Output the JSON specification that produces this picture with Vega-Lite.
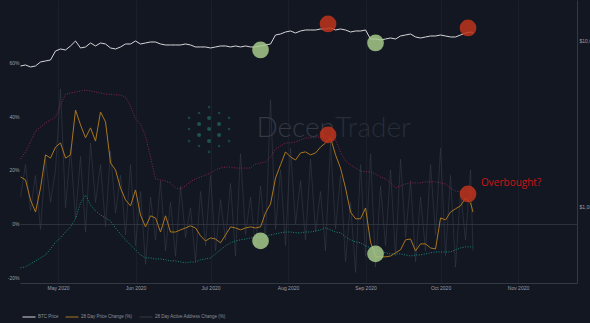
{
  "$schema": "https://vega.github.io/schema/vega-lite/v6.json",
  "width": 557,
  "height": 283,
  "autosize": {"type": "none"},
  "padding": {"left": 20, "top": 0, "right": 13, "bottom": 40},
  "background": "#121722",
  "config": {
    "view": {"stroke": null},
    "font": "Liberation Sans",
    "axis": {"labelFont": "Liberation Sans", "labelFontSize": 5, "labelColor": "#9a9ea8", "ticks": false}
  },
  "datasets": {
    "main": [
      {"date":"2020-04-16","btc":7070,"pc":17.4,"aa":-16.3,"band":24.1,"act":10},
      {"date":"2020-04-18","btc":7168,"pc":16.3,"aa":-15.9,"band":26.7,"act":22},
      {"date":"2020-04-20","btc":6973,"pc":8.9,"aa":-14.8,"band":30.4,"act":5},
      {"date":"2020-04-22","btc":7070,"pc":4.4,"aa":-13.7,"band":34.4,"act":18},
      {"date":"2020-04-24","btc":7473,"pc":13.3,"aa":-12.6,"band":35.9,"act":-2},
      {"date":"2020-04-26","btc":7577,"pc":25.6,"aa":-11.5,"band":37.4,"act":24},
      {"date":"2020-04-28","btc":7682,"pc":24.4,"aa":-9.3,"band":38.5,"act":8},
      {"date":"2020-04-30","btc":8705,"pc":28.5,"aa":-6.7,"band":39.6,"act":20},
      {"date":"2020-05-02","btc":8950,"pc":30.0,"aa":-5.2,"band":44.1,"act":50},
      {"date":"2020-05-04","btc":8827,"pc":24.4,"aa":-3.0,"band":48.1,"act":6},
      {"date":"2020-05-06","btc":9330,"pc":25.6,"aa":-1.1,"band":48.5,"act":28},
      {"date":"2020-05-08","btc":10000,"pc":42.2,"aa":1.9,"band":48.9,"act":2},
      {"date":"2020-05-10","btc":9075,"pc":36.7,"aa":7.8,"band":49.3,"act":25},
      {"date":"2020-05-12","btc":9202,"pc":31.9,"aa":10.7,"band":49.6,"act":-3},
      {"date":"2020-05-14","btc":9727,"pc":35.6,"aa":7.0,"band":49.3,"act":30},
      {"date":"2020-05-16","btc":9330,"pc":30.7,"aa":4.8,"band":48.9,"act":8},
      {"date":"2020-05-18","btc":9727,"pc":41.5,"aa":3.3,"band":48.5,"act":22},
      {"date":"2020-05-20","btc":9592,"pc":37.8,"aa":2.2,"band":48.1,"act":-1},
      {"date":"2020-05-22","btc":9075,"pc":22.6,"aa":1.1,"band":48.1,"act":27},
      {"date":"2020-05-24","btc":8950,"pc":20.0,"aa":-1.5,"band":47.8,"act":4},
      {"date":"2020-05-26","btc":9202,"pc":13.3,"aa":-3.7,"band":47.8,"act":18},
      {"date":"2020-05-28","btc":9592,"pc":8.9,"aa":-5.9,"band":47.0,"act":-4},
      {"date":"2020-05-30","btc":9592,"pc":6.7,"aa":-7.8,"band":43.7,"act":22},
      {"date":"2020-06-01","btc":10000,"pc":12.6,"aa":-9.6,"band":38.9,"act":-8},
      {"date":"2020-06-03","btc":9592,"pc":3.3,"aa":-11.5,"band":37.0,"act":12},
      {"date":"2020-06-05","btc":9727,"pc":-1.1,"aa":-12.6,"band":32.6,"act":-15},
      {"date":"2020-06-07","btc":9862,"pc":3.0,"aa":-12.6,"band":24.8,"act":10},
      {"date":"2020-06-09","btc":9862,"pc":2.2,"aa":-13.0,"band":16.7,"act":-6},
      {"date":"2020-06-11","btc":9592,"pc":-3.0,"aa":-13.0,"band":16.3,"act":16},
      {"date":"2020-06-13","btc":9461,"pc":3.0,"aa":-13.3,"band":15.9,"act":-10},
      {"date":"2020-06-15","btc":9461,"pc":-3.0,"aa":-13.7,"band":15.2,"act":8},
      {"date":"2020-06-17","btc":9461,"pc":-3.0,"aa":-13.7,"band":13.3,"act":-12},
      {"date":"2020-06-19","btc":9461,"pc":-2.2,"aa":-14.1,"band":13.0,"act":14},
      {"date":"2020-06-21","btc":9592,"pc":-1.5,"aa":-14.4,"band":14.1,"act":-5},
      {"date":"2020-06-23","btc":9461,"pc":-0.7,"aa":-14.1,"band":15.6,"act":6},
      {"date":"2020-06-25","btc":9202,"pc":-1.5,"aa":-14.1,"band":16.7,"act":-14},
      {"date":"2020-06-27","btc":9202,"pc":-4.4,"aa":-13.3,"band":17.4,"act":12},
      {"date":"2020-06-29","btc":9202,"pc":-6.3,"aa":-13.0,"band":18.1,"act":-8},
      {"date":"2020-07-01","btc":9075,"pc":-5.2,"aa":-12.6,"band":18.9,"act":18},
      {"date":"2020-07-03","btc":9202,"pc":-5.6,"aa":-11.1,"band":20.0,"act":-10},
      {"date":"2020-07-05","btc":9330,"pc":-7.0,"aa":-9.6,"band":20.7,"act":9},
      {"date":"2020-07-07","btc":9330,"pc":-4.1,"aa":-8.1,"band":21.1,"act":-6},
      {"date":"2020-07-09","btc":9202,"pc":-1.1,"aa":-7.0,"band":21.1,"act":15},
      {"date":"2020-07-11","btc":9330,"pc":-1.5,"aa":-6.3,"band":20.7,"act":-12},
      {"date":"2020-07-13","btc":9202,"pc":-2.2,"aa":-5.9,"band":20.7,"act":26},
      {"date":"2020-07-15","btc":9330,"pc":-1.5,"aa":-5.6,"band":20.7,"act":-4},
      {"date":"2020-07-17","btc":9202,"pc":-1.1,"aa":-5.2,"band":20.7,"act":10},
      {"date":"2020-07-19","btc":9202,"pc":-1.5,"aa":-4.8,"band":22.2,"act":-9},
      {"date":"2020-07-21","btc":9330,"pc":-1.1,"aa":-4.8,"band":22.6,"act":14},
      {"date":"2020-07-23","btc":9461,"pc":4.1,"aa":-4.4,"band":23.0,"act":-6},
      {"date":"2020-07-25","btc":9592,"pc":7.4,"aa":-4.1,"band":24.8,"act":46},
      {"date":"2020-07-27","btc":10868,"pc":17.0,"aa":-3.7,"band":27.8,"act":-2},
      {"date":"2020-07-29","btc":11020,"pc":21.9,"aa":-3.3,"band":28.9,"act":20},
      {"date":"2020-07-31","btc":11329,"pc":26.7,"aa":-3.0,"band":30.0,"act":-8},
      {"date":"2020-08-02","btc":11488,"pc":24.8,"aa":-3.0,"band":30.0,"act":28},
      {"date":"2020-08-04","btc":11174,"pc":23.7,"aa":-3.3,"band":30.4,"act":0},
      {"date":"2020-08-06","btc":11488,"pc":26.3,"aa":-3.3,"band":31.1,"act":16},
      {"date":"2020-08-08","btc":11649,"pc":26.7,"aa":-3.0,"band":31.9,"act":-6},
      {"date":"2020-08-10","btc":11649,"pc":25.6,"aa":-3.0,"band":31.9,"act":24},
      {"date":"2020-08-12","btc":11649,"pc":26.3,"aa":-2.6,"band":32.2,"act":-3},
      {"date":"2020-08-14","btc":11810,"pc":28.5,"aa":-2.2,"band":32.2,"act":12},
      {"date":"2020-08-16","btc":11810,"pc":30.0,"aa":-1.5,"band":32.2,"act":-10},
      {"date":"2020-08-18","btc":11976,"pc":31.9,"aa":-2.2,"band":32.2,"act":30},
      {"date":"2020-08-20","btc":11649,"pc":25.6,"aa":-3.0,"band":31.1,"act":-2},
      {"date":"2020-08-22","btc":11810,"pc":20.7,"aa":-3.3,"band":26.7,"act":18},
      {"date":"2020-08-24","btc":11649,"pc":13.3,"aa":-4.8,"band":23.3,"act":-14},
      {"date":"2020-08-26","btc":11329,"pc":4.4,"aa":-5.9,"band":21.9,"act":8},
      {"date":"2020-08-28","btc":11488,"pc":1.9,"aa":-6.7,"band":20.7,"act":-18},
      {"date":"2020-08-30","btc":11488,"pc":1.9,"aa":-7.0,"band":19.6,"act":22},
      {"date":"2020-09-01","btc":11649,"pc":5.9,"aa":-8.1,"band":19.3,"act":-12},
      {"date":"2020-09-03","btc":10281,"pc":-6.7,"aa":-8.9,"band":19.3,"act":26},
      {"date":"2020-09-05","btc":10281,"pc":-12.2,"aa":-9.6,"band":18.5,"act":-16},
      {"date":"2020-09-07","btc":10140,"pc":-12.2,"aa":-10.4,"band":17.4,"act":14},
      {"date":"2020-09-09","btc":10281,"pc":-12.2,"aa":-10.7,"band":16.7,"act":-8},
      {"date":"2020-09-11","btc":10425,"pc":-11.9,"aa":-11.1,"band":15.2,"act":20},
      {"date":"2020-09-13","btc":10281,"pc":-10.7,"aa":-11.1,"band":13.3,"act":-12},
      {"date":"2020-09-15","btc":10718,"pc":-9.6,"aa":-11.1,"band":14.1,"act":24},
      {"date":"2020-09-17","btc":10868,"pc":-5.9,"aa":-11.5,"band":14.8,"act":-5},
      {"date":"2020-09-19","btc":11020,"pc":-5.6,"aa":-11.9,"band":15.2,"act":16},
      {"date":"2020-09-21","btc":10571,"pc":-10.0,"aa":-11.5,"band":15.2,"act":-14},
      {"date":"2020-09-23","btc":10425,"pc":-7.4,"aa":-11.5,"band":15.2,"act":10},
      {"date":"2020-09-25","btc":10571,"pc":-7.4,"aa":-11.1,"band":15.6,"act":-10},
      {"date":"2020-09-27","btc":10718,"pc":-8.9,"aa":-10.7,"band":15.6,"act":22},
      {"date":"2020-09-29","btc":10718,"pc":-9.3,"aa":-10.4,"band":15.6,"act":-4},
      {"date":"2020-10-01","btc":10868,"pc":2.2,"aa":-10.4,"band":15.2,"act":28},
      {"date":"2020-10-03","btc":10718,"pc":1.5,"aa":-10.4,"band":14.8,"act":-12},
      {"date":"2020-10-05","btc":10571,"pc":4.4,"aa":-10.4,"band":13.3,"act":18},
      {"date":"2020-10-07","btc":10571,"pc":5.6,"aa":-9.6,"band":12.2,"act":-16},
      {"date":"2020-10-09","btc":10868,"pc":6.7,"aa":-8.9,"band":11.9,"act":12},
      {"date":"2020-10-11","btc":11174,"pc":9.6,"aa":-8.5,"band":11.9,"act":-6},
      {"date":"2020-10-13","btc":11329,"pc":7.8,"aa":-8.5,"band":11.9,"act":20},
      {"date":"2020-10-14","btc":11174,"pc":4.4,"aa":-8.5,"band":11.9,"act":-10}
    ],
    "marks": [
      {"date":"2020-07-21","v":-6.3,"k":"g"},
      {"date":"2020-09-05","v":-11.1,"k":"g"},
      {"date":"2020-08-17","v":33.0,"k":"r"},
      {"date":"2020-10-12","v":11.1,"k":"r"},
      {"date":"2020-10-17T05:00","v":14.1,"k":"ob","t":"Overbought?"},
      {"date":"2020-08-19T19:00","v":32.2,"k":"wm1","t":"Decen"},
      {"date":"2020-08-19T19:00","v":32.2,"k":"wm2","t":"Trader"},
      {"date":"2020-06-30T10:00","v":43.3,"k":"dot"},
      {"date":"2020-06-26T10:00","v":41.1,"k":"dot"},
      {"date":"2020-07-04T10:00","v":41.1,"k":"dot"},
      {"date":"2020-06-22T10:00","v":39.3,"k":"dot"},
      {"date":"2020-06-30T10:00","v":39.3,"k":"big"},
      {"date":"2020-07-08T10:00","v":39.3,"k":"dot"},
      {"date":"2020-06-26T10:00","v":37.0,"k":"big"},
      {"date":"2020-07-04T10:00","v":37.0,"k":"big"},
      {"date":"2020-06-22T10:00","v":35.2,"k":"dot"},
      {"date":"2020-06-30T10:00","v":35.2,"k":"big"},
      {"date":"2020-07-08T10:00","v":35.2,"k":"dot"},
      {"date":"2020-06-26T10:00","v":33.0,"k":"big"},
      {"date":"2020-07-04T10:00","v":33.0,"k":"big"},
      {"date":"2020-06-22T10:00","v":30.7,"k":"dot"},
      {"date":"2020-06-30T10:00","v":30.7,"k":"big"},
      {"date":"2020-07-08T10:00","v":30.7,"k":"dot"},
      {"date":"2020-06-26T10:00","v":28.9,"k":"dot"},
      {"date":"2020-07-04T10:00","v":28.9,"k":"dot"},
      {"date":"2020-06-30T10:00","v":26.7,"k":"dot"}
    ],
    "top": [
      {"date":"2020-07-21","p":8829,"k":"g"},
      {"date":"2020-09-05","p":9727,"k":"g"},
      {"date":"2020-08-17","p":12660,"k":"r"},
      {"date":"2020-10-12","p":11976,"k":"r"}
    ]
  },
  "data": {"name": "main"},
  "encoding": {
    "x": {
      "field": "date", "type": "temporal", "title": null,
      "scale": {"domain": [{"year": 2020, "month": 4, "date": 15, "hours": 19}, {"year": 2020, "month": 11, "date": 24, "hours": 14}]},
      "axis": {"format": "%b %Y", "tickCount": {"interval": "month", "step": 1}, "grid": true, "gridColor": "#1a1f2a", "domainColor": "#343946", "labelPadding": 2, "labelFlush": false, "labelOverlap": false}
    }
  },
  "layer": [
    {
      "layer": [
        {
          "data": {"name": "marks"},
          "transform": [{"filter": "datum.k === 'wm1'"}],
          "mark": {"type": "text", "align": "right", "baseline": "alphabetic", "font": "Lato", "fontWeight": 300, "fontSize": 28, "color": "#333844"},
          "encoding": {"y": {"field": "v", "type": "quantitative", "title": null, "scale": {"domain": [-21.9, 83], "zero": false}}, "text": {"field": "t"}}
        },
        {
          "data": {"name": "marks"},
          "transform": [{"filter": "datum.k === 'wm2'"}],
          "mark": {"type": "text", "align": "left", "baseline": "alphabetic", "font": "Lato", "fontWeight": 300, "fontSize": 28, "color": "#282d38"},
          "encoding": {"y": {"field": "v", "type": "quantitative", "title": null, "scale": {"domain": [-21.9, 83], "zero": false}}, "text": {"field": "t"}}
        },
        {
          "data": {"name": "marks"},
          "transform": [{"filter": "datum.k === 'dot'"}],
          "mark": {"type": "circle", "size": 7, "color": "#1a4543", "opacity": 1},
          "encoding": {"y": {"field": "v", "type": "quantitative", "title": null, "scale": {"domain": [-21.9, 83], "zero": false}}}
        },
        {
          "data": {"name": "marks"},
          "transform": [{"filter": "datum.k === 'big'"}],
          "mark": {"type": "circle", "size": 16, "color": "#1d5450", "opacity": 1},
          "encoding": {"y": {"field": "v", "type": "quantitative", "title": null, "scale": {"domain": [-21.9, 83], "zero": false}}}
        },
        {
          "mark": {"type": "line", "strokeWidth": 1, "opacity": 0.6},
          "encoding": {
            "y": {
              "field": "act", "type": "quantitative", "title": null,
              "scale": {"domain": [-21.9, 83], "zero": false},
              "axis": {"orient": "left", "values": [-20, 0, 20, 40, 60], "labelExpr": "datum.value + '%'", "domain": false, "labelPadding": 1, "grid": true, "gridColor": {"condition": {"test": "datum.value === 0", "value": "#2c313c"}, "value": "rgba(0,0,0,0)"}}
            },
            "color": {
              "datum": "28 Day Active Address Change (%)", "type": "nominal",
              "scale": {"domain": ["BTC Price", "28 Day Price Change (%)", "28 Day Active Address Change (%)"], "range": ["#d6d6d6", "#a9761f", "#363b48"]},
              "legend": {"orient": "none", "legendX": 2, "legendY": 310, "direction": "horizontal", "title": null, "symbolType": "stroke", "symbolSize": 169, "symbolStrokeWidth": 1, "symbolOpacity": 1, "labelFontSize": 4.5, "labelColor": "#8c909a", "labelOffset": 2, "columnPadding": 4, "padding": 0}
            }
          }
        },
        {
          "mark": {"type": "line", "strokeWidth": 1, "color": "#8a2650", "strokeDash": [1, 1.5]},
          "encoding": {"y": {"field": "band", "type": "quantitative", "title": null, "scale": {"domain": [-21.9, 83], "zero": false}}}
        },
        {
          "mark": {"type": "line", "strokeWidth": 1, "color": "#1a8a7c", "strokeDash": [1, 1.5]},
          "encoding": {"y": {"field": "aa", "type": "quantitative", "title": null, "scale": {"domain": [-21.9, 83], "zero": false}}}
        },
        {
          "mark": {"type": "line", "strokeWidth": 1},
          "encoding": {
            "y": {"field": "pc", "type": "quantitative", "title": null, "scale": {"domain": [-21.9, 83], "zero": false}},
            "color": {"datum": "28 Day Price Change (%)", "type": "nominal"}
          }
        },
        {
          "data": {"name": "marks"},
          "transform": [{"filter": "datum.k === 'g'"}],
          "mark": {"type": "circle", "size": 280, "color": "#a6c98a", "opacity": 0.85},
          "encoding": {"y": {"field": "v", "type": "quantitative", "title": null, "scale": {"domain": [-21.9, 83], "zero": false}}}
        },
        {
          "data": {"name": "marks"},
          "transform": [{"filter": "datum.k === 'r'"}],
          "mark": {"type": "circle", "size": 280, "color": "#c0341c", "opacity": 0.85},
          "encoding": {"y": {"field": "v", "type": "quantitative", "title": null, "scale": {"domain": [-21.9, 83], "zero": false}}}
        },
        {
          "data": {"name": "marks"},
          "transform": [{"filter": "datum.k === 'ob'"}],
          "mark": {"type": "text", "align": "left", "baseline": "alphabetic", "font": "Open Sans", "fontSize": 10, "color": "#cc1616"},
          "encoding": {"y": {"field": "v", "type": "quantitative", "title": null, "scale": {"domain": [-21.9, 83], "zero": false}}, "text": {"field": "t"}}
        }
      ]
    },
    {
      "layer": [
        {
          "mark": {"type": "line", "strokeWidth": 1},
          "encoding": {
            "y": {
              "field": "btc", "type": "quantitative", "title": null,
              "scale": {"type": "log", "domain": [348, 17660]},
              "axis": {"orient": "right", "values": [1000, 10000], "labelExpr": "'$' + format(datum.value, ',')", "domain": true, "domainColor": "#343946", "grid": false, "labelPadding": 2}
            },
            "color": {"datum": "BTC Price", "type": "nominal"}
          }
        },
        {
          "data": {"name": "top"},
          "transform": [{"filter": "datum.k === 'g'"}],
          "mark": {"type": "circle", "size": 280, "color": "#a6c98a", "opacity": 0.85},
          "encoding": {"y": {"field": "p", "type": "quantitative", "title": null, "scale": {"type": "log", "domain": [348, 17660]}}}
        },
        {
          "data": {"name": "top"},
          "transform": [{"filter": "datum.k === 'r'"}],
          "mark": {"type": "circle", "size": 280, "color": "#c0341c", "opacity": 0.85},
          "encoding": {"y": {"field": "p", "type": "quantitative", "title": null, "scale": {"type": "log", "domain": [348, 17660]}}}
        }
      ]
    }
  ],
  "resolve": {"scale": {"y": "independent"}}
}
